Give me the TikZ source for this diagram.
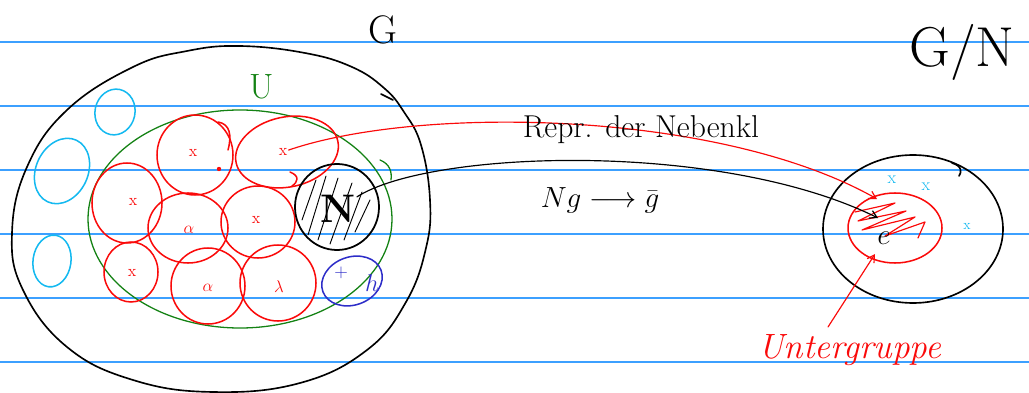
\documentclass[tikz,border=0pt]{standalone}
\usetikzlibrary{arrows.meta, calc}
\definecolor{ruleblue}{RGB}{60,160,255}
\definecolor{penred}{RGB}{250,10,10}
\definecolor{pengreen}{RGB}{20,130,20}
\definecolor{pencyan}{RGB}{20,185,240}
\definecolor{penblue}{RGB}{45,45,200}

\begin{document}
\begin{tikzpicture}[x=0.3mm,y=-0.3mm,
  rule/.style={ruleblue, line width=0.9pt},
  pen/.style={line width=1.3pt, line cap=round, line join=round},
  cell/.style={pen, penred},
  elem/.style={text=penred, font=\fontsize{14}{16}\selectfont, inner sep=1pt},
  hand/.style={font=\fontsize{27}{31}\selectfont, inner sep=1pt},
  tip/.style={-{Straight Barb[length=6pt,width=7pt]}}]
\useasboundingbox (0,0) rectangle (1029,393);

%ruled paper
\draw[rule] (0,42) -- (1029,42);
\draw[rule] (0,106) -- (1029,106);
\draw[rule] (0,170) -- (1029,170);
\draw[rule] (0,234) -- (1029,234);
\draw[rule] (0,298) -- (1029,298);
\draw[rule] (0,362) -- (1029,362);

%group G and subgroup U
\draw[pen, line width=1.4pt] plot[smooth cycle, tension=0.7] coordinates {(240,46) (305,53)
  (352,67) (384,88) (404,112) (421,145) (430,200) (426,248) (406,302) (367,350) (300,383)
  (213,392) (133,380) (67,347) (23,290) (12,233) (27,167) (67,110) (133,67) (187,51)};
\draw[pen, line width=1.4pt] (381,94) -- (393,100);
\draw[pen, pengreen, line width=1.1pt] (240,219) ellipse (152 and 109);
\draw[pen, pengreen, line width=1.1pt] (380,160) .. controls (390,164) and (392,172) .. (391,180);
\node[hand, text=pengreen, font=\fontsize{30}{34}\selectfont] (lblU) at (262,87) {U};
\node[hand, font=\fontsize{34}{40}\selectfont] (lblG) at (383,30) {G};

%cosets of U
\draw[cell] (195,155) ellipse (38 and 40);
\draw[cell, rotate around={12:(287,152)}] (287,152) ellipse (52 and 35);
\draw[cell] (127,203) ellipse (35 and 40);
\draw[cell] (188,228) ellipse (40 and 35);
\draw[cell] (258,222) ellipse (37 and 36);
\draw[cell] (131,272) ellipse (27 and 30);
\draw[cell] (208,286) ellipse (37 and 38);
\draw[cell] (278,283) ellipse (38 and 38);
\draw[cell] (218,122) .. controls (230,124) and (232,135) .. (228,150);
\draw[cell] (290,172) .. controls (300,176) and (298,182) .. (292,186);
\node[elem] (x1) at (193,153) {x};
\node[elem] (xrep) at (283,152) {x};
\node[elem] (x3) at (133,202) {x};
\node[elem] (x4) at (189,230) {$\alpha$};
\node[elem] (x5) at (256,220) {x};
\node[elem] (x6) at (132,273) {x};
\node[elem] (x7) at (208,288) {$\alpha$};
\node[elem] (x8) at (279,287) {$\lambda$};
\fill[penred] (219,169) circle (2.2);

%normal subgroup N
\draw[pen, line width=1.5pt] (337,207) ellipse (42 and 43);
\draw[pen, line width=0.8pt] (302,220) -- (316,180);
\draw[pen, line width=0.8pt] (308,235) -- (326,176);
\draw[pen, line width=0.8pt] (318,240) -- (338,178);
\draw[pen, line width=0.8pt] (330,244) -- (352,183);
\draw[pen, line width=0.8pt] (344,240) -- (362,192);
\draw[pen, line width=0.8pt] (355,232) -- (370,200);
\node[hand, font=\bfseries\fontsize{34}{40}\selectfont] (N) at (338,209) {N};

%further elements
\draw[pen, pencyan, rotate around={-12:(115,112)}] (115,112) ellipse (20 and 23);
\draw[pen, pencyan, rotate around={-25:(62,171)}] (62,171) ellipse (26 and 34);
\draw[pen, pencyan, rotate around={-8:(52,261)}] (52,261) ellipse (19 and 26);
\draw[pen, penblue, rotate around={20:(352,281)}] (352,281) ellipse (31 and 24);
\node[text=penblue, font=\fontsize{16}{18}\selectfont, inner sep=1pt] (hx) at (341,273) {+};
\node[text=penblue, font=\fontsize{20}{22}\selectfont, inner sep=1pt] (h) at (372,283) {$h$};

%quotient group G/N
\draw[pen, line width=1.4pt] (913,229) ellipse (90 and 74);
\draw[pen, line width=1.4pt] (952,163) .. controls (962,166) and (962,172) .. (959,176);
\draw[cell] (895,228) ellipse (47 and 35);
\draw[cell, line width=1pt] (855,212) -- (895,203) -- (858,221) -- (906,211) -- (862,230)
  -- (915,217) -- (885,236) -- (925,222) -- (918,238);
\node[hand, font=\fontsize{24}{28}\selectfont] (e) at (884,238) {$e$};
\node[text=pencyan, font=\fontsize{15}{17}\selectfont, inner sep=1pt] (c1) at (892,180) {x};
\node[text=pencyan, font=\fontsize{15}{17}\selectfont, inner sep=1pt] (c2) at (926,187) {x};
\node[text=pencyan, font=\fontsize{12}{14}\selectfont, inner sep=1pt] (c3) at (967,226) {x};
\node[hand, font=\fontsize{48}{56}\selectfont] (lblGN) at (962,52) {G/N};
\node[hand, text=penred, font=\itshape\fontsize{30}{34}\selectfont, anchor=base west] (lblsub) at (757,358) {Untergruppe};

%maps
\coordinate (repend) at (877,199);
\coordinate (gbar) at (878,218);
\coordinate (subfoot) at (828,327);
\coordinate (subtip) at (875,254);
\draw[cell, line width=1pt, tip] (xrep) .. controls (420,105) and (720,110) .. (repend);
\draw[pen, line width=1pt, tip] (N) .. controls (430,150) and (720,140) .. (gbar);
\draw[cell, line width=1pt, tip] (subfoot) -- (subtip);
\node[hand] (lblrep) at (641,130) {Repr. der Nebenkl};
\node[hand, font=\fontsize{40}{44}\selectfont] (lblmap) at (600,200) {$Ng \longrightarrow \bar{g}$};
\end{tikzpicture}
\end{document}
